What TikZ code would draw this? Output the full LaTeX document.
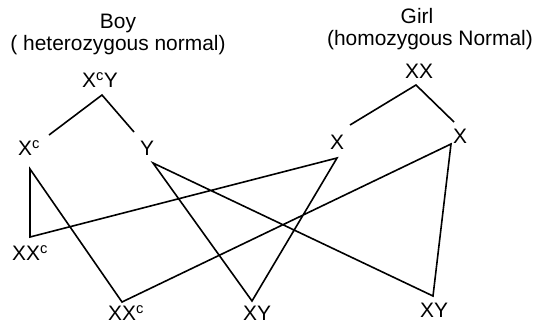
\documentclass[tikz,border=0pt]{standalone}
\usepackage{fontspec}
\setmainfont{Liberation Sans}
\usepackage{tikz}

\tikzset{
  gene/.style={font=\fontsize{21}{22}\selectfont, inner sep=0pt},
  link/.style={line width=1.6bp, line join=miter}
}

\begin{document}
\begin{tikzpicture}[x=1bp, y=-1bp]
                \useasboundingbox (0,0) rectangle (536,325);
                % parents
                \node[gene, anchor=base] (boy) at (118,28) {Boy};
                \node[gene, anchor=base] (boynote) at (118,50) {( heterozygous normal)};
                \node[gene, anchor=base] (girl) at (417,23) {Girl};
                \node[gene, anchor=base] (girlnote) at (430,45) {(homozygous Normal)};
                \node[gene] (XcY) at (100,80) {X\textsuperscript{c}Y};
                \node[gene] (XX) at (419,71) {XX};
                % gametes
                \node[gene] (Xc) at (29,148) {X\textsuperscript{c}};
                \node[gene] (Yb) at (147,148) {Y};
                \node[gene] (Xl) at (337,142) {X};
                \node[gene] (Xr) at (460,136) {X};
                % offspring
                \node[gene] (XXc1) at (30,253) {XX\textsuperscript{c}};
                \node[gene] (XXc2) at (126,313) {XX\textsuperscript{c}};
                \node[gene] (XY1) at (257,313) {XY};
                \node[gene] (XY2) at (434,310) {XY};
                \coordinate (B1) at (49,135);
                \coordinate (B0) at (102,95);
                \coordinate (B2) at (134,132);
                \coordinate (G1) at (350,125);
                \coordinate (G0) at (416,85);
                \coordinate (G2) at (454,122);
                \coordinate (a) at (30,169);
                \coordinate (b) at (153,163);
                \coordinate (c) at (337,158);
                \coordinate (d) at (451,144);
                \coordinate (p) at (30,237);
                \coordinate (q) at (122,302);
                \coordinate (r) at (252,301);
                \coordinate (s) at (433,296);
                \draw[link] (B1) -- (B0) -- (B2);
                \draw[link] (G1) -- (G0) -- (G2);
                \draw[link] (a) -- (p) -- (c) -- (r) -- (b) -- (s) -- (d) -- (q) -- cycle;
            \end{tikzpicture}
\end{document}
